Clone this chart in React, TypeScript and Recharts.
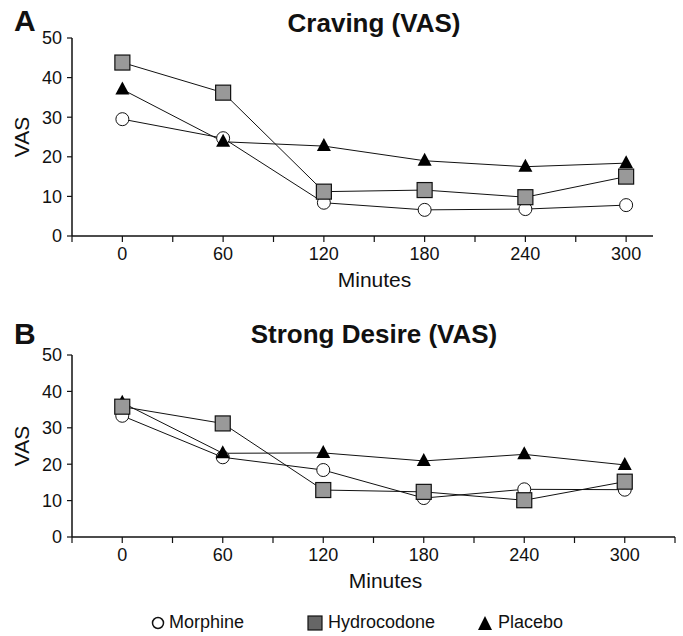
import React from "react"
import { LineChart, Line, XAxis, YAxis, Label } from "recharts"

// minutes after dosing
const minutes = [0, 60, 120, 180, 240, 300]

// panel A - craving
const cravingMorphine = [29.5, 24.7, 8.4, 6.6, 6.8, 7.8]
const cravingHydrocodone = [43.8, 36.2, 11.2, 11.6, 9.8, 15.0]
const cravingPlacebo = [37.0, 23.8, 22.7, 19.0, 17.5, 18.4]

// panel B - strong desire
const desireMorphine = [33.3, 21.9, 18.4, 10.7, 13.1, 13.0]
const desireHydrocodone = [35.8, 31.2, 12.9, 12.4, 10.1, 15.2]
const desirePlacebo = [36.9, 23.0, 23.1, 20.9, 22.7, 19.8]

const yTicks = [0, 10, 20, 30, 40, 50]
const xTicks = [-30, 0, 30, 60, 90, 120, 150, 180, 210, 240, 270, 300]
const xTicksB = [...xTicks, 330]
const labelled = [0, 60, 120, 180, 240, 300]

const FONT = "'Liberation Sans', Arial, sans-serif"
const INK = "#111"

const build = (m: number[], h: number[], p: number[]) =>
  minutes.map((t, i) => ({ t, morphine: m[i], hydrocodone: h[i], placebo: p[i] }))

const dataA = build(cravingMorphine, cravingHydrocodone, cravingPlacebo)
const dataB = build(desireMorphine, desireHydrocodone, desirePlacebo)

const circleDot = (props: any) => (
  <circle key={"c" + props.index} cx={props.cx} cy={props.cy} r={6.5} fill="#fff" stroke={INK} strokeWidth={1} />
)
const squareDot = (props: any) => (
  <rect key={"s" + props.index} x={props.cx - 7.5} y={props.cy - 7.5} width={15} height={15} fill="#999" stroke={INK} strokeWidth={1.2} />
)
const triangleDot = (props: any) => (
  <path key={"t" + props.index} d={`M${props.cx},${props.cy - 8} L${props.cx + 7},${props.cy + 5} L${props.cx - 7},${props.cy + 5} Z`} fill="#000" />
)

const tickStyle = { fontSize: 18, fill: INK, fontFamily: FONT }

function Panel({ data, domainMax, ticks, marginTop, marginRight, height }: any) {
  return (
    <LineChart width={683} height={height} data={data}
      margin={{ top: marginTop, right: marginRight, bottom: 8, left: 32 }}>
      <XAxis dataKey="t" type="number" domain={[-30, domainMax]} ticks={ticks}
        allowDataOverflow
        tickFormatter={(v: number) => (labelled.includes(v) ? String(v) : "")}
        tick={{ ...tickStyle, dy: 3 }} tickSize={6} height={52}
        axisLine={{ stroke: INK, strokeWidth: 1.5 }} tickLine={{ stroke: INK, strokeWidth: 1.2 }}>
        <Label value="Minutes" position="insideBottom" offset={1} dx={12} style={{ fontSize: 21, fill: INK, fontFamily: FONT }} />
      </XAxis>
      <YAxis type="number" domain={[0, 50]} ticks={yTicks} width={40}
        tick={{ ...tickStyle, dx: -3 }} tickSize={5}
        axisLine={{ stroke: INK, strokeWidth: 1.5 }} tickLine={{ stroke: INK, strokeWidth: 1.2 }}>
        <Label value="VAS" angle={-90} position="insideLeft" offset={-10} style={{ fontSize: 21, fill: INK, fontFamily: FONT, textAnchor: "middle" }} />
      </YAxis>
      <Line dataKey="morphine" stroke={INK} strokeWidth={1} dot={circleDot} isAnimationActive={false} />
      <Line dataKey="placebo" stroke={INK} strokeWidth={1} dot={triangleDot} isAnimationActive={false} />
      <Line dataKey="hydrocodone" stroke={INK} strokeWidth={1} dot={squareDot} isAnimationActive={false} />
    </LineChart>
  )
}

const titleStyle: React.CSSProperties = {
  position: "absolute", fontFamily: FONT, fontWeight: "bold", fontSize: 26, color: INK, whiteSpace: "nowrap",
}

export default function App() {
  return (
    <div style={{ position: "absolute", left: 0, top: 0, width: 683, height: 636, background: "#fff", fontFamily: FONT }}>
      <div style={{ position: "absolute", left: 0, top: 0 }}>
        <Panel data={dataA} domainMax={316} ticks={xTicks} marginTop={38} marginRight={30} height={296} />
      </div>
      <div style={{ ...titleStyle, left: 14, top: 4, fontSize: 30 }}>A</div>
      <div style={{ ...titleStyle, left: 0, width: 748, top: 8, textAlign: "center" }}>Craving (VAS)</div>
      <div style={{ position: "absolute", left: 0, top: 300 }}>
        <Panel data={dataB} domainMax={330} ticks={xTicksB} marginTop={55} marginRight={8} height={297} />
      </div>
      <div style={{ ...titleStyle, left: 14, top: 317, fontSize: 30 }}>B</div>
      <div style={{ ...titleStyle, left: 0, width: 748, top: 319, textAlign: "center" }}>Strong Desire (VAS)</div>
      <div style={{ position: "absolute", left: 0, top: 612, width: 683, height: 24, fontSize: 18, color: INK }}>
        <svg width={683} height={24} style={{ position: "absolute", left: 0, top: 0 }}>
          <circle cx={158} cy={11} r={5.5} fill="#fff" stroke={INK} strokeWidth={1.5} />
          <rect x={308} y={4} width={14} height={14} fill="#666" stroke={INK} strokeWidth={1.2} />
          <path d="M485,4 L492,18 L478,18 Z" fill="#000" />
        </svg>
        <span style={{ position: "absolute", left: 169, top: 0 }}>Morphine</span>
        <span style={{ position: "absolute", left: 328, top: 0 }}>Hydrocodone</span>
        <span style={{ position: "absolute", left: 498, top: 0 }}>Placebo</span>
      </div>
    </div>
  )
}
